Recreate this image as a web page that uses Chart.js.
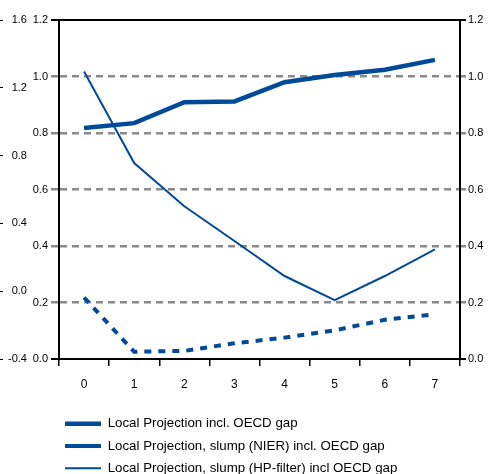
<!DOCTYPE html>
<html><head><meta charset="utf-8">
<script src="https://cdn.jsdelivr.net/npm/chart.js@4"></script>
<style>html,body{margin:0;padding:0;overflow:hidden;background:#fff}
#wrap{position:relative;width:490px;height:485px}</style></head>
<body><div id="wrap"><canvas id="c"></canvas></div>
<script>
const categories = ['0','1','2','3','4','5','6','7'];
const seriesLP = [0.818, 0.835, 0.909, 0.912, 0.980, 1.005, 1.024, 1.059];
const seriesNIER = [0.218, 0.026, 0.029, 0.056, 0.076, 0.102, 0.139, 0.159];
const seriesHP = [1.018, 0.694, 0.541, 0.418, 0.294, 0.209, 0.294, 0.388];
const seriesNames = ['Local Projection incl. OECD gap', 'Local Projection, slump (NIER) incl. OECD gap', 'Local Projection, slump (HP-filter) incl OECD gap'];
const innerAxis = {min: 0, max: 1.2, step: 0.2};
const outerAxis = {min: -0.4, max: 1.6, step: 0.4};

const BLUE = '#004a98';
const GRID = '#8a8a8a';
const tickFont = {family: "'Liberation Sans',Arial,sans-serif", size: 11};
const isEnd = v => Math.abs(v - innerAxis.min) < 1e-6 || Math.abs(v - innerAxis.max) < 1e-6;

const legendShift = {
  id: 'legendShift',
  afterLayout(chart) { if (chart.legend) { chart.legend.left = 56; } }
};

new Chart(document.getElementById('c'), {
  type: 'line',
  data: {
    labels: categories,
    datasets: [
      {label: seriesNames[0], data: seriesLP, borderColor: BLUE, backgroundColor: BLUE, borderWidth: 4.5, pointRadius: 0, tension: 0, yAxisID: 'y'},
      {label: seriesNames[1], data: seriesNIER, borderColor: BLUE, backgroundColor: BLUE, borderWidth: 4, borderDash: [7, 7], pointRadius: 0, tension: 0, yAxisID: 'y'},
      {label: seriesNames[2], data: seriesHP, borderColor: BLUE, backgroundColor: BLUE, borderWidth: 2, pointRadius: 0, tension: 0, yAxisID: 'y'}
    ]
  },
  options: {
    responsive: true,
    maintainAspectRatio: false,
    animation: false,
    layout: {padding: {top: 20, left: 0, right: 0, bottom: 0}},
    plugins: {
      tooltip: {enabled: false},
      legend: {
        position: 'bottom',
        align: 'start',
        labels: {
          usePointStyle: true,
          pointStyle: 'line',
          pointStyleWidth: 36,
          padding: 9,
          color: '#000',
          font: {family: "'Liberation Sans',Arial,sans-serif", size: 13.3}
        }
      }
    },
    scales: {
      x: {
        type: 'category',
        offset: true,
        grid: {drawOnChartArea: false, offset: true, tickLength: 7, color: '#000', lineWidth: 1.5},
        border: {color: '#000', width: 2},
        ticks: {color: '#000', font: {family: "'Liberation Sans',Arial,sans-serif", size: 12}, padding: 11, maxRotation: 0},
        afterFit: s => { s.height = 49; }
      },
      y: {
        position: 'left',
        weight: 0,
        min: innerAxis.min, max: innerAxis.max,
        ticks: {stepSize: innerAxis.step, color: '#000', font: tickFont, padding: 3, callback: v => Number(v).toFixed(1)},
        grid: {
          tickLength: 8,
          color: c => (c.tick && isEnd(c.tick.value)) ? '#000' : GRID,
          lineWidth: c => (c.tick && isEnd(c.tick.value)) ? 2 : 2.5
        },
        border: {display: true, color: '#000', width: 2, dash: c => (c.tick && !isEnd(c.tick.value)) ? [7, 5] : []},
        afterFit: s => { s.width = 56; }
      },
      yOuter: {
        position: 'left',
        weight: 1,
        min: outerAxis.min, max: outerAxis.max,
        ticks: {stepSize: outerAxis.step, mirror: true, crossAlign: 'far', padding: 5, color: '#000', font: tickFont, callback: v => Number(v).toFixed(1)},
        grid: {drawOnChartArea: false, tickLength: 3, color: '#000', lineWidth: 1},
        border: {display: false},
        afterFit: s => { s.width = 3; }
      },
      yRight: {
        position: 'right',
        min: innerAxis.min, max: innerAxis.max,
        ticks: {stepSize: innerAxis.step, color: '#000', font: tickFont, padding: 2, callback: v => Number(v).toFixed(1)},
        grid: {
          drawOnChartArea: false,
          tickLength: 6,
          color: c => (c.tick && isEnd(c.tick.value)) ? '#000' : GRID,
          lineWidth: c => (c.tick && isEnd(c.tick.value)) ? 2 : 2.5
        },
        border: {display: true, color: '#000', width: 2},
        afterFit: s => { s.width = 30; }
      }
    }
  },
  plugins: [legendShift]
});
</script>
</body></html>
